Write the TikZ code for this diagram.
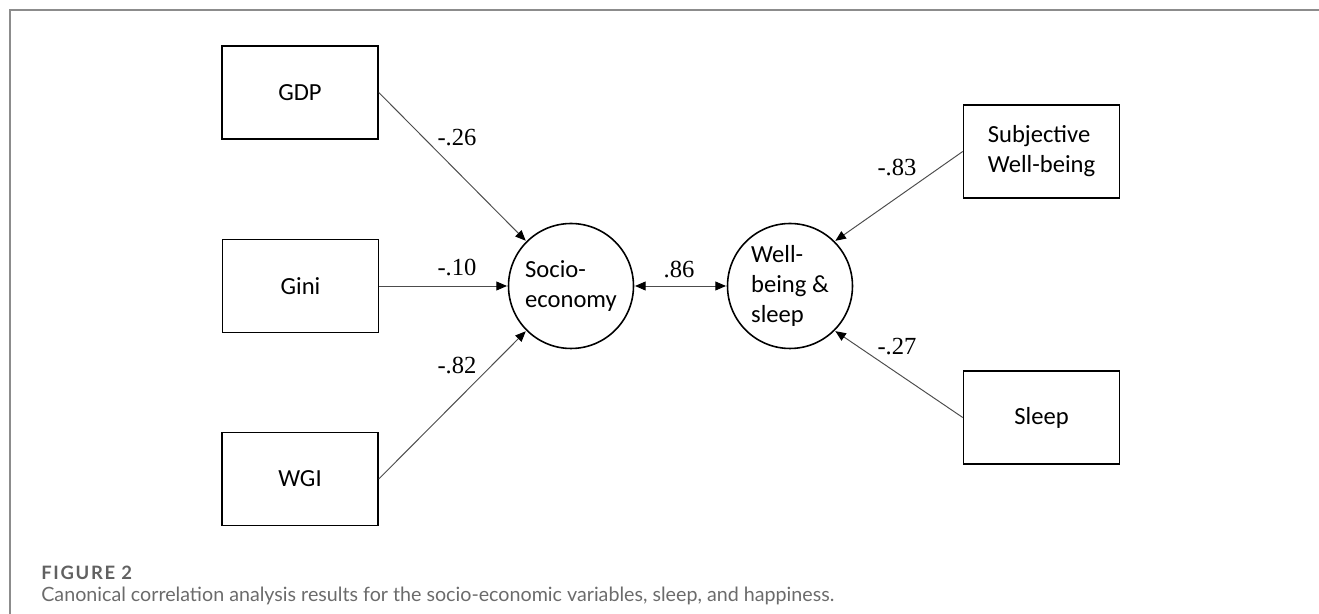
\documentclass[tikz,border=0pt]{standalone}
\usepackage{fontspec}
\setmainfont{Liberation Serif}
\newfontfamily\boxfont{Carlito}
\newfontfamily\capfont{Lato}
\newfontfamily\fignofont[LetterSpace=9]{Lato}
\usepackage{tikz}
\usetikzlibrary{
  positioning,
  arrows.meta
}

\begin{document}
\begin{tikzpicture}[
    x=0.02cm, y=-0.02cm,
    >={Triangle[length=6pt,width=5pt,color=black]},
    varbox/.style={draw, line width=0.9pt, minimum width=3.12cm, minimum height=1.86cm,
                   font=\boxfont\fontsize{14}{17}\selectfont, align=left, inner sep=0pt},
    latent/.style={draw, circle, line width=0.9pt, minimum size=2.5cm, inner sep=0pt,
                   font=\boxfont\fontsize{14}{17}\selectfont, align=left},
    loading/.style={->, draw=black!70, line width=0.55pt, shorten >=0.4pt},
    coef/.style={font=\fontsize{14}{16}\selectfont, inner sep=0pt}
]
% ========== page margins and frame ==========
\useasboundingbox (0,0) rectangle (1319,614);
\draw[black!45, line width=1pt] (10,614) -- (10,10) -- (1319,10);

% ========== observed variables ==========
\node[varbox] (gdp)   at (300,92.5)    {GDP};
\node[varbox] (gini)  at (300.5,286)   {Gini};
\node[varbox] (wgi)   at (300,479)     {WGI};
\node[varbox] (swb)   at (1041.5,151.5) {Subjective\\Well-being};
\node[varbox] (sleep) at (1041.5,417.5) {Sleep};

% ========== canonical variates ==========
\node[latent] (socio) at (571,286) {Socio-\\economy};
\node[latent] (wbs)   at (790,286) {Well-\\being \&\\sleep};

% ========== loadings ==========
\draw[loading] (gdp.east)   -- (socio.135);
\draw[loading] (gini.east)  -- (socio.west);
\draw[loading] (wgi.east)   -- (socio.-135);
\draw[loading] (swb.west)   -- (wbs.45);
\draw[loading] (sleep.west) -- (wbs.-45);
\draw[loading, <->, shorten <=0.4pt] (socio.east) -- (wbs.west);

% ========== coefficients ==========
\node[coef] (cgdp)   at (457,138) {-.26};
\node[coef] (cgini)  at (457,267) {-.10};
\node[coef] (cwgi)   at (457,365) {-.82};
\node[coef] (ccan)   at (679,269) {.86};
\node[coef] (cswb)   at (897,168) {-.83};
\node[coef] (csleep) at (897,347) {-.27};

% ========== caption ==========
\node[anchor=west, inner sep=0pt, text=black!62, font=\fignofont\bfseries\fontsize{10.5}{12}\selectfont]
    (figno) at (41,573) {FIGURE 2};
\node[anchor=west, inner sep=0pt, text=black!58, font=\capfont\fontsize{11.2}{13}\selectfont]
    (caption) at (41,596) {Canonical correlation analysis results for the socio-economic variables, sleep, and happiness.};

\end{tikzpicture}
\end{document}
